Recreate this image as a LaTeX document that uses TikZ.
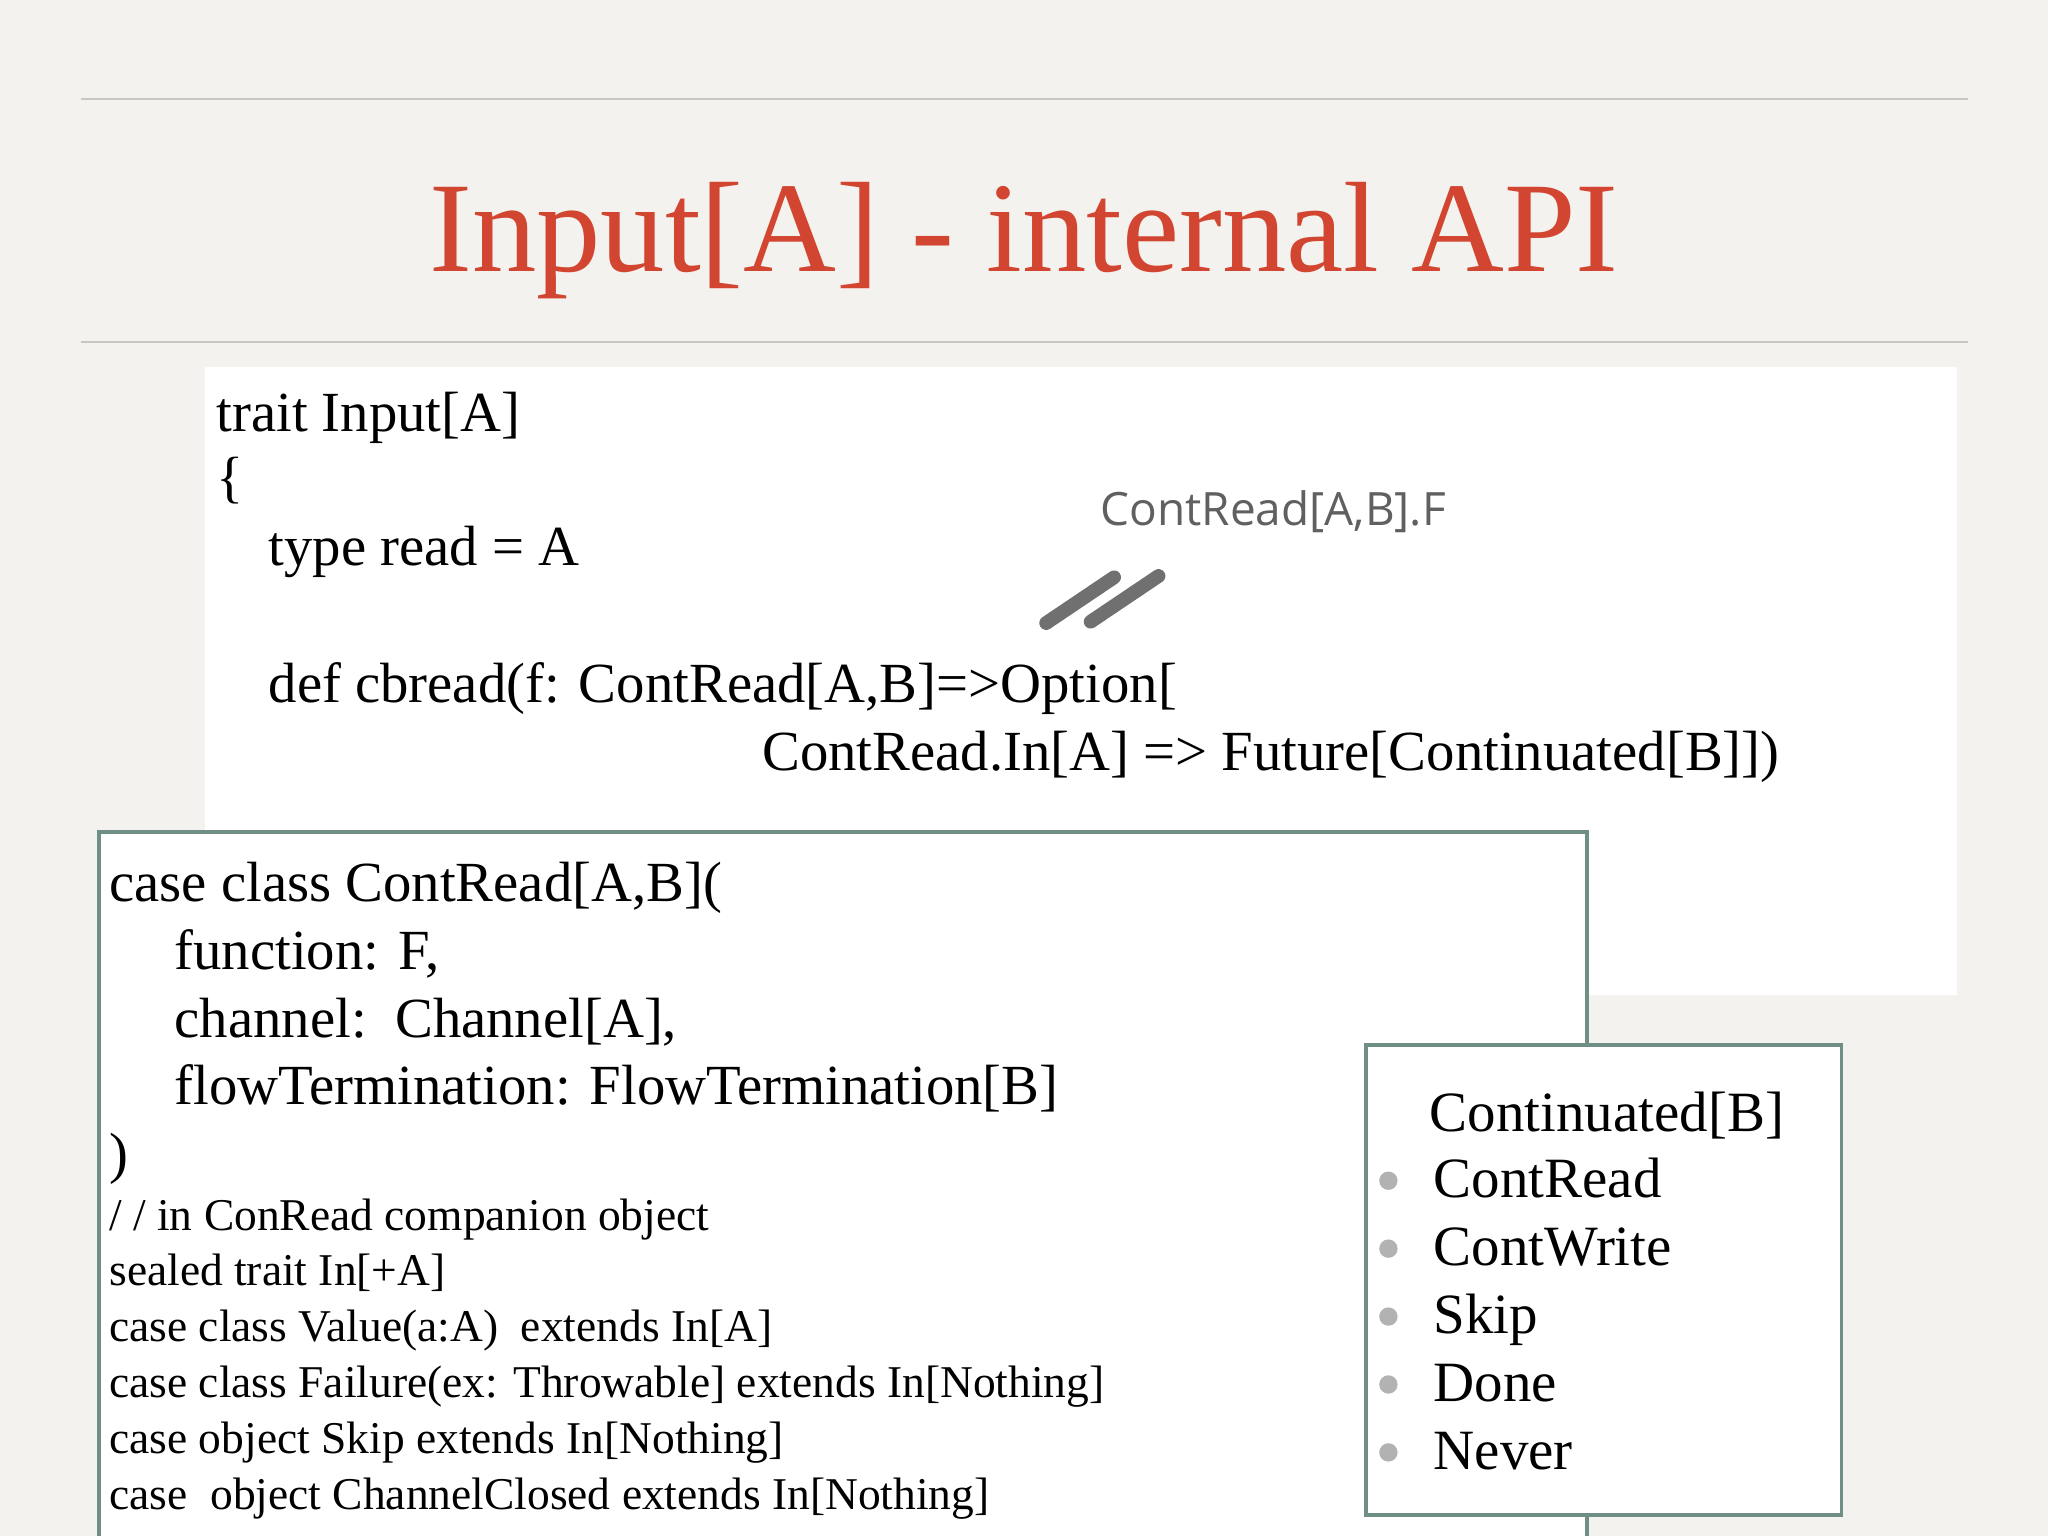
\documentclass[tikz,border=0pt]{standalone}
\usepackage{fontspec}
\setmainfont{Liberation Serif}
\newfontfamily\labelfont{Open Sans}
\usetikzlibrary{positioning}
\definecolor{slidebg}{HTML}{F4F2EF}
\definecolor{titlered}{HTML}{D24530}
\definecolor{rulegray}{HTML}{C8C6C2}
\definecolor{boxgreen}{HTML}{6F8F86}
\definecolor{notegray}{HTML}{606060}
\begin{document}
\begin{tikzpicture}[x=0.01cm, y=-0.01cm,
    codebig/.style={anchor=base west, inner sep=0pt, font=\fontsize{12.35pt}{14pt}\selectfont},
    codesmall/.style={anchor=base west, inner sep=0pt, font=\fontsize{9.9pt}{11pt}\selectfont},
    item/.style={anchor=base west, inner sep=0pt, font=\fontsize{12.4pt}{14pt}\selectfont},
    dot/.style={circle, fill=gray!60, inner sep=0pt, minimum size=4pt}]
  \fill[slidebg] (0,0) rectangle (1568,1176);
  \useasboundingbox (0,0) rectangle (1568,1176);

  % title and rules
  \draw[rulegray] (62,76) -- (1507,76);
  \draw[rulegray] (62,262) -- (1507,262);
  \node[anchor=base, inner sep=0pt, text=titlered, font=\fontsize{28pt}{32pt}\selectfont] (title) at (784,208) {Input[A] - internal API};

  % trait box
  \fill[white] (157,281) rectangle (1498,762);
  \node[codebig] (trait) at (165,330) {trait Input[A]};
  \node[codebig] (brace) at (165,380) {\{};
  \node[codebig] (tread) at (205,433) {type read = A};
  \node[codebig] (cbread) at (205,538) {def cbread(f: ContRead[A,B]=>Option[};
  \node[codebig] (cbtail) at (583,590) {ContRead.In[A] => Future[Continuated[B]])};
  \node[anchor=base west, inner sep=0pt, text=notegray, font=\labelfont\fontsize{10pt}{12pt}\selectfont] (note) at (842,402) {ContRead[A,B].F};
  \draw[notegray!90, line width=3pt, line cap=round] (801,477) -- (853,442);
  \draw[notegray!90, line width=3pt, line cap=round] (835,476) -- (887,441);

  % case class box
  \filldraw[fill=white, draw=boxgreen, line width=0.8pt] (76,1180) -- (76,637) -- (1215,637) -- (1215,1180);
  \node[codebig] (cc) at (83,690) {case class ContRead[A,B](};
  \node[codebig] (fn) at (133,742) {function: F,};
  \node[codebig] (ch) at (133,794) {channel:\ \ Channel[A],};
  \node[codebig] (ft) at (133,846) {flowTermination: FlowTermination[B]};
  \node[codebig] (close) at (83,898) {)};
  \node[codesmall] (c1) at (83,942) {/ / in ConRead companion object};
  \node[codesmall] (c2) at (83,984) {sealed trait In[+A]};
  \node[codesmall] (c3) at (83,1027) {case class Value(a:A)\ \ extends In[A]};
  \node[codesmall] (c4) at (83,1070) {case class Failure(ex: Throwable] extends In[Nothing]};
  \node[codesmall] (c5) at (83,1113) {case object Skip extends In[Nothing]};
  \node[codesmall] (c6) at (83,1156) {case\ \ object ChannelClosed extends In[Nothing]};

  % continuated box
  \filldraw[fill=white, draw=boxgreen, line width=0.8pt] (1046,800) rectangle (1410,1160);
  \node[item] (cont) at (1094,866) {Continuated[B]};
  \foreach \y/\t [count=\i] in {917/ContRead, 969/ContWrite, 1021/Skip, 1073/Done, 1125/Never} {
    \node[dot] (d\i) at (1063,\y-13) {};
    \node[item] (it\i) at (1097,\y) {\t};
  }
\end{tikzpicture}
\end{document}
